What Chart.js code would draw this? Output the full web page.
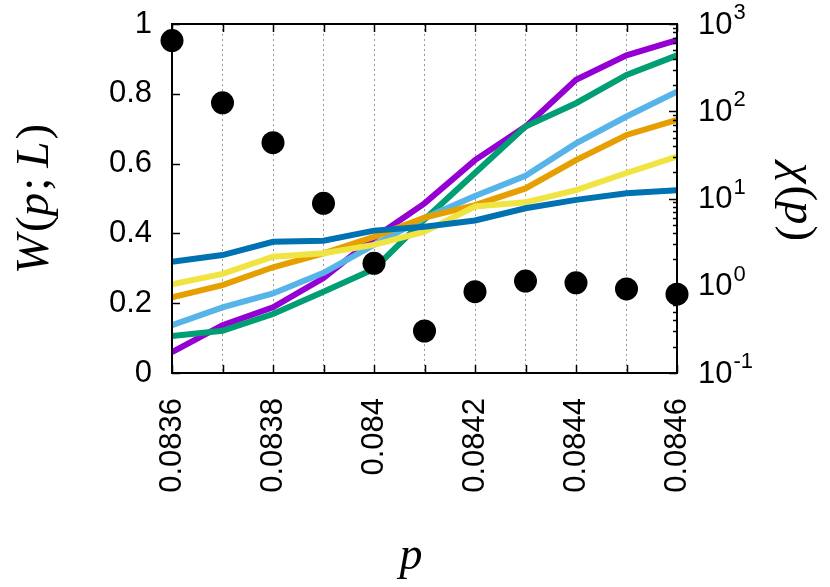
<!DOCTYPE html>
<html>
<head>
<meta charset="utf-8">
<script src="https://cdn.jsdelivr.net/npm/chart.js@4.4.1/dist/chart.umd.min.js"></script>
<style>
  body { margin: 0; background: #fff; }
  canvas { display: block; }
</style>
</head>
<body>
<canvas id="chart" width="830" height="587"></canvas>
<script>
// p 값 (x축)
const pValues = [0.0836, 0.0837, 0.0838, 0.0839, 0.0840, 0.0841, 0.0842, 0.0843, 0.0844, 0.0845, 0.0846];
const xTickLabels = ['0.0836', '0.0838', '0.084', '0.0842', '0.0844', '0.0846'];
const yTickLabels = ['0', '0.2', '0.4', '0.6', '0.8', '1'];
const y2TickExponents = ['-1', '0', '1', '2', '3'];

// W(p;L) 곡선들 (왼쪽 축)
const wPurple   = [0.060, 0.137, 0.188, 0.272, 0.387, 0.486, 0.610, 0.706, 0.840, 0.910, 0.954];
const wGreen    = [0.106, 0.121, 0.169, 0.233, 0.298, 0.440, 0.573, 0.706, 0.773, 0.854, 0.910];
const wSkyBlue  = [0.137, 0.188, 0.228, 0.287, 0.367, 0.444, 0.507, 0.565, 0.658, 0.735, 0.806];
const wOrange   = [0.217, 0.252, 0.303, 0.343, 0.390, 0.445, 0.481, 0.529, 0.610, 0.682, 0.725];
const wYellow   = [0.254, 0.284, 0.333, 0.343, 0.367, 0.405, 0.477, 0.489, 0.524, 0.573, 0.620];
const wBlue     = [0.319, 0.338, 0.376, 0.379, 0.408, 0.419, 0.437, 0.472, 0.496, 0.515, 0.524];

// chi(p) 점 (오른쪽 로그 축)
const chiValues = [645, 125, 43.6, 8.8, 1.81, 0.303, 0.855, 1.13, 1.08, 0.918, 0.80];

const toPoints = arr => arr.map((v, i) => ({ x: pValues[i], y: v }));

function lineSet(data, color, order) {
    return {
        data: toPoints(data),
        borderColor: color,
        backgroundColor: color,
        borderWidth: 6,
        pointRadius: 0,
        tension: 0,
        fill: false,
        yAxisID: 'y',
        order: order
    };
}

// 축 테두리, 안쪽 눈금, 축 제목 그리기
const framePlugin = {
    id: 'frame',
    afterDraw: chart => {
        const ctx = chart.ctx;
        const a = chart.chartArea;
        const xs = chart.scales.x;
        const ys = chart.scales.y;
        const y2 = chart.scales.y2;
        ctx.save();
        ctx.strokeStyle = '#000';
        ctx.lineWidth = 1.5;
        // x 눈금 (아래, 위)
        xs.ticks.forEach(t => {
            const px = Math.round(xs.getPixelForValue(t.value)) + 0.5;
            ctx.beginPath();
            ctx.moveTo(px, a.bottom); ctx.lineTo(px, a.bottom - 8);
            ctx.moveTo(px, a.top); ctx.lineTo(px, a.top + 8);
            ctx.stroke();
        });
        // 왼쪽 눈금
        ys.ticks.forEach(t => {
            const py = Math.round(ys.getPixelForValue(t.value)) + 0.5;
            ctx.beginPath();
            ctx.moveTo(a.left, py); ctx.lineTo(a.left + 8, py);
            ctx.stroke();
        });
        // 오른쪽 로그 눈금
        for (let e = -1; e <= 3; e++) {
            for (let m = 1; m <= 9; m++) {
                const v = m * Math.pow(10, e);
                if (v > 1000.0001) break;
                const py = Math.round(y2.getPixelForValue(v)) + 0.5;
                const len = m === 1 ? 8 : 4;
                ctx.beginPath();
                ctx.moveTo(a.right, py); ctx.lineTo(a.right - len, py);
                ctx.stroke();
            }
        }
        // 테두리
        ctx.lineWidth = 2;
        ctx.strokeRect(a.left, a.top, a.right - a.left, a.bottom - a.top);

        // 오른쪽 축 라벨 10^n
        ctx.fillStyle = '#000';
        ctx.textBaseline = 'middle';
        ctx.textAlign = 'left';
        y2TickExponents.forEach(ex => {
            const py = y2.getPixelForValue(Math.pow(10, Number(ex)));
            ctx.font = '31px "Liberation Sans", Arial, sans-serif';
            ctx.fillText('10', a.right + 21, py + 1);
            const w = ctx.measureText('10').width;
            ctx.font = '22px "Liberation Sans", Arial, sans-serif';
            ctx.fillText(ex, a.right + 21 + w + 1, py - 11);
        });

        // 축 제목
        const serif = '"Liberation Serif", "DejaVu Serif", serif';
        const runs = (parts, x, y, rot) => {
            ctx.save();
            ctx.translate(x, y);
            ctx.rotate(rot);
            let total = 0;
            parts.forEach(p => { ctx.font = p[1]; total += ctx.measureText(p[0]).width + (p[2] || 0); });
            let cx = -total / 2;
            ctx.textAlign = 'left';
            ctx.textBaseline = 'middle';
            parts.forEach(p => {
                ctx.font = p[1];
                ctx.fillText(p[0], cx, 0);
                cx += ctx.measureText(p[0]).width + (p[2] || 0);
            });
            ctx.restore();
        };
        const it = 'italic 47px ' + serif;
        const up = '47px ' + serif;
        runs([['W', it, 3], ['(', up], ['p', it, 2], [';', up, 10], ['L', it, 2], [')', up]], 36, 199, -Math.PI / 2);
        runs([['χ', it, 2], ['(', up], ['p', it, 1], [')', up]], 797, 202, Math.PI / 2);
        ctx.font = 'italic 46px ' + serif;
        ctx.textAlign = 'center';
        ctx.textBaseline = 'alphabetic';
        ctx.fillText('p', 411, 569);
        ctx.restore();
    }
};

const ctx = document.getElementById('chart').getContext('2d');
new Chart(ctx, {
    type: 'line',
    data: {
        datasets: [
            {
                data: toPoints(chiValues),
                yAxisID: 'y2',
                showLine: false,
                pointRadius: 11.5,
                pointBackgroundColor: '#000',
                pointBorderWidth: 0,
                borderColor: '#000',
                clip: false,
                order: 0
            },
            lineSet(wBlue, '#0072B2', 1),
            lineSet(wYellow, '#F0E442', 2),
            lineSet(wOrange, '#E69F00', 3),
            lineSet(wSkyBlue, '#56B4E9', 4),
            lineSet(wGreen, '#009E73', 5),
            lineSet(wPurple, '#9400D3', 6)
        ]
    },
    options: {
        responsive: false,
        animation: false,
        layout: { padding: { top: 24, left: 0, right: 0, bottom: 0 } },
        plugins: { legend: { display: false }, tooltip: { enabled: false } },
        scales: {
            x: {
                type: 'linear',
                min: 0.0836,
                max: 0.0846,
                afterFit: s => { s.height = 214; s.paddingLeft = 0; s.paddingRight = 0; },
                afterBuildTicks: s => {
                    s.ticks = pValues.map(v => ({ value: v }));
                },
                grid: { color: '#9a9a9a', lineWidth: 1, drawTicks: false },
                border: { display: false, dash: [2, 3] },
                ticks: {
                    autoSkip: false,
                    minRotation: 90,
                    maxRotation: 90,
                    padding: 25,
                    color: '#000',
                    font: { size: 31, family: '"Liberation Sans", Arial, sans-serif' },
                    callback: (value, index) => index % 2 === 0 ? xTickLabels[index / 2] : ''
                }
            },
            y: {
                position: 'left',
                min: 0,
                max: 1,
                afterFit: s => { s.width = 172; s.paddingTop = 0; s.paddingBottom = 0; },
                grid: { display: false, drawTicks: false },
                border: { display: false },
                ticks: {
                    stepSize: 0.2,
                    padding: 20,
                    color: '#000',
                    font: { size: 31, family: '"Liberation Sans", Arial, sans-serif' },
                    callback: (value, index) => yTickLabels[index]
                }
            },
            y2: {
                type: 'logarithmic',
                position: 'right',
                min: 0.1,
                max: 1000,
                afterFit: s => { s.width = 153; s.paddingTop = 0; s.paddingBottom = 0; },
                grid: { display: false, drawTicks: false },
                border: { display: false },
                ticks: { display: false }
            }
        }
    },
    plugins: [framePlugin]
});
</script>
</body>
</html>
